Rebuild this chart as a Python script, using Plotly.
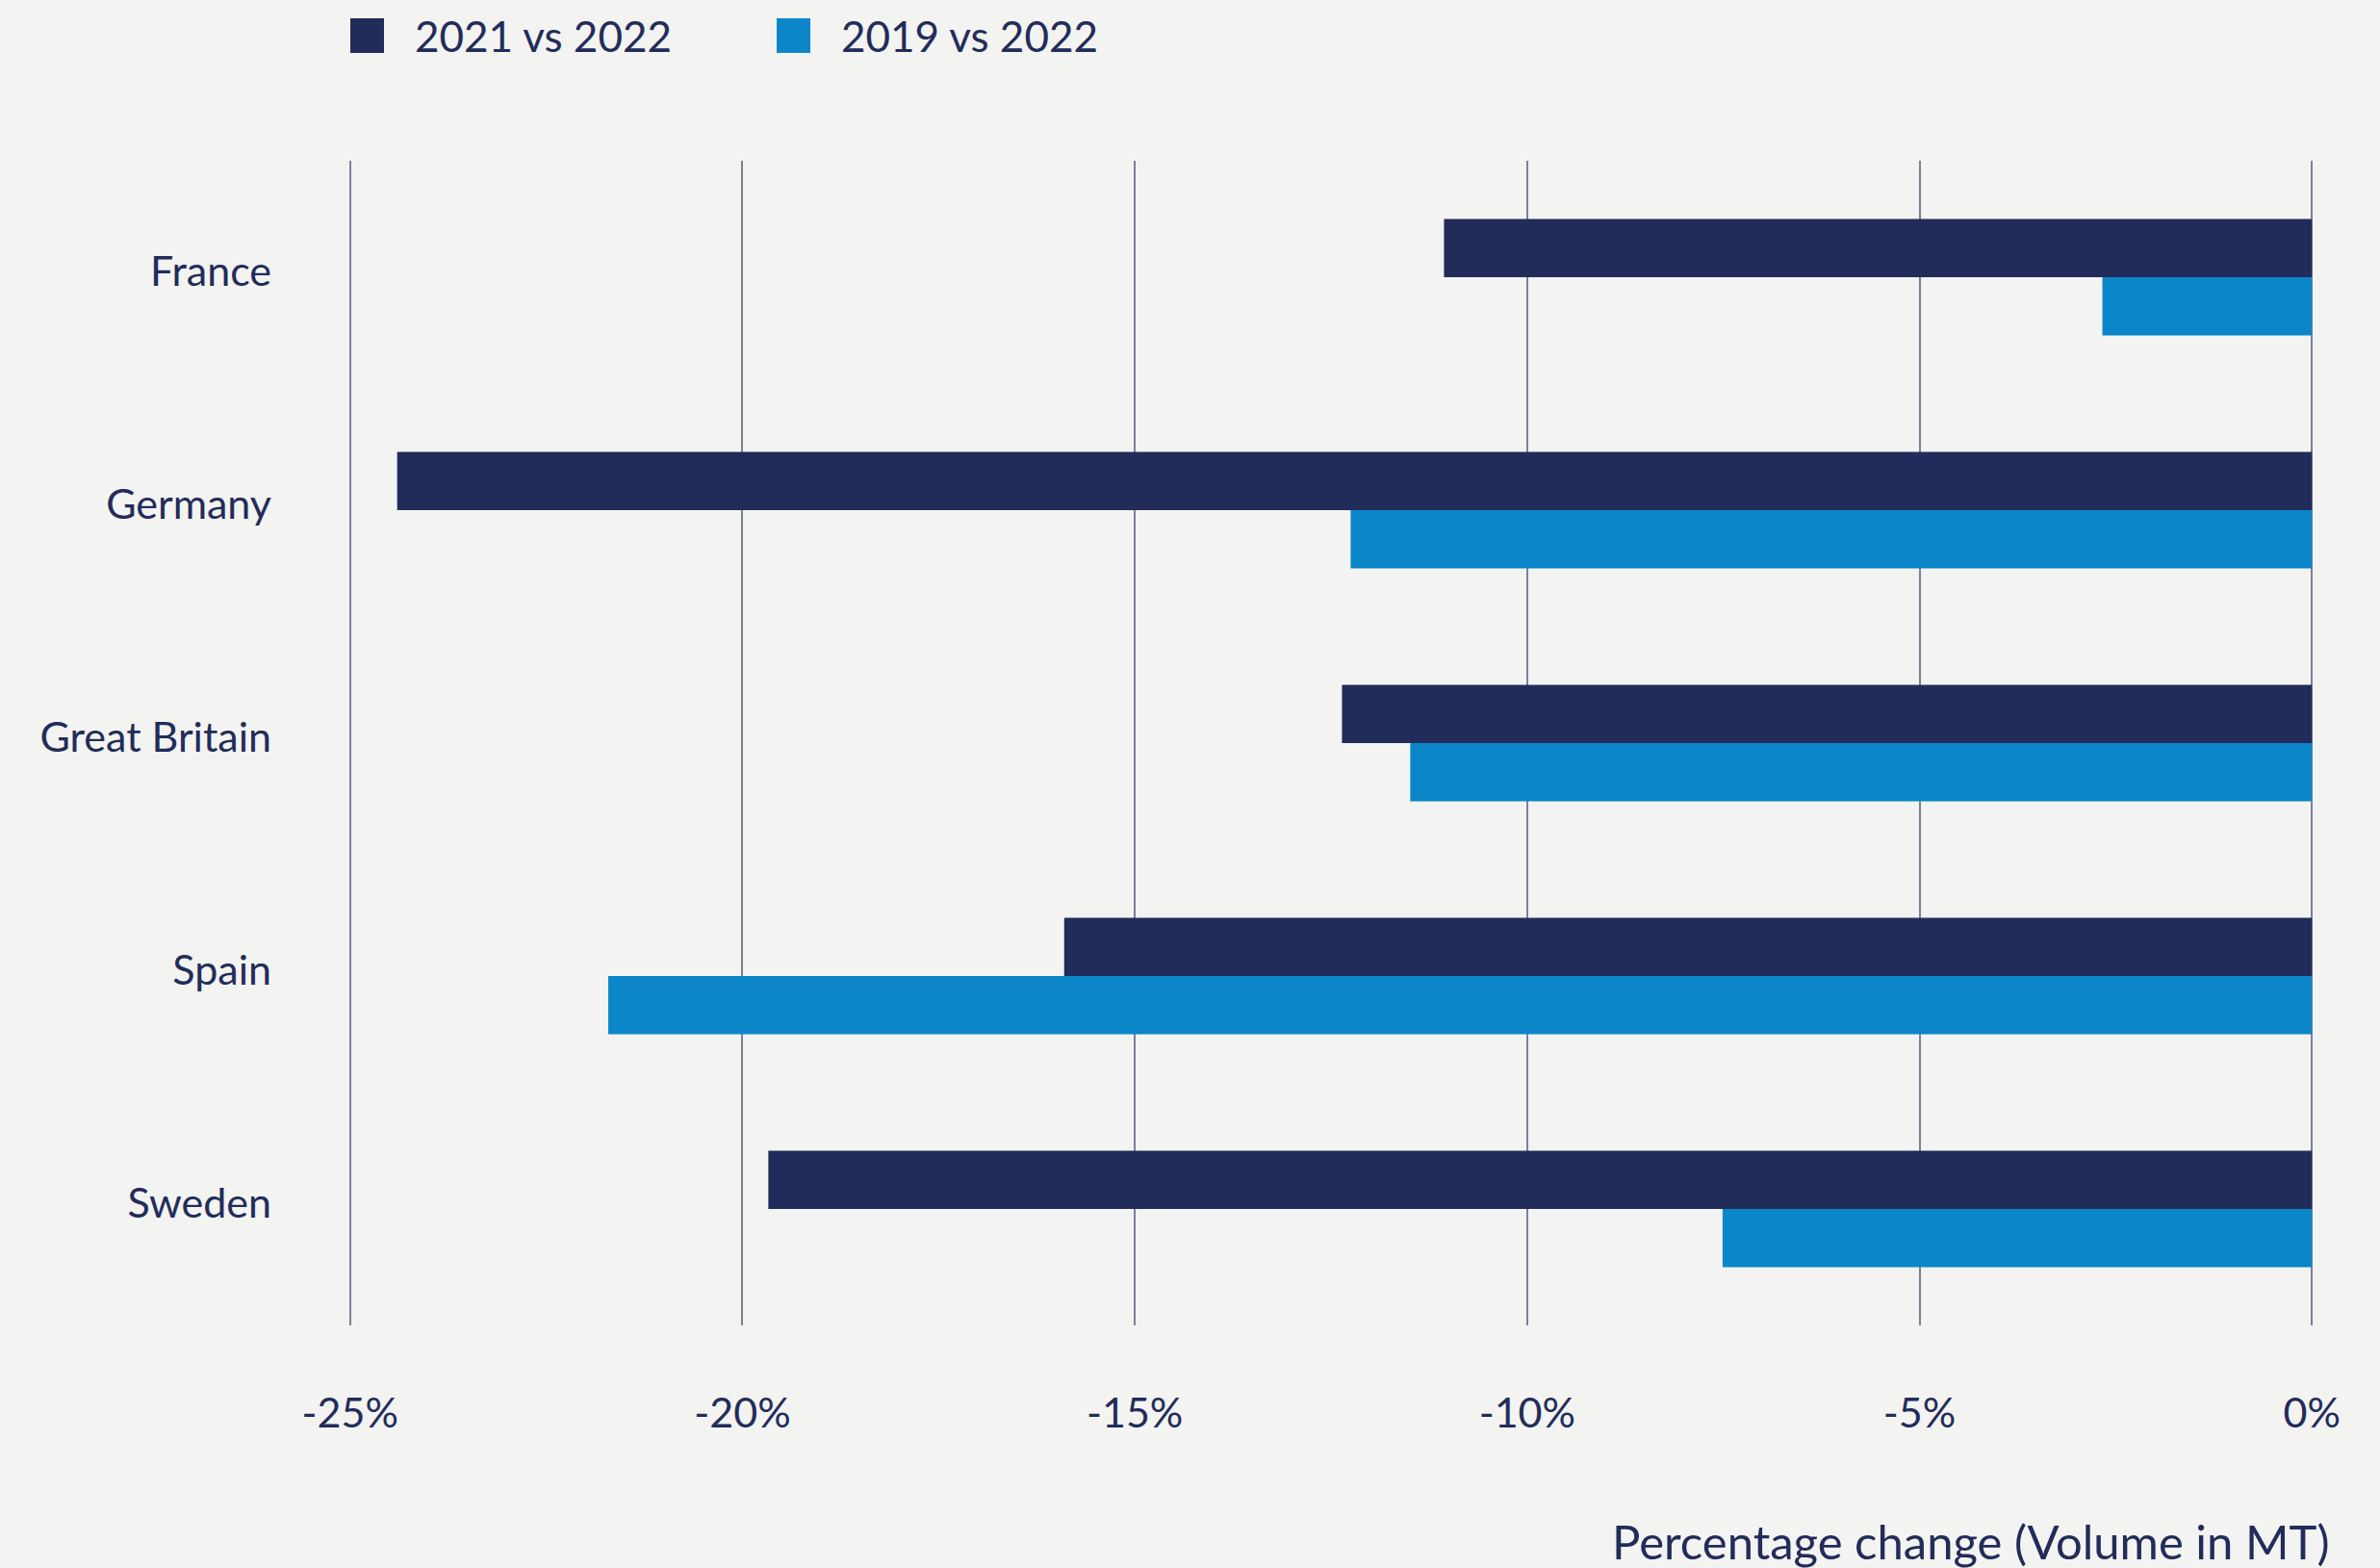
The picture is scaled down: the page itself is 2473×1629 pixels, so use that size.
import plotly.graph_objects as go

# Percentage change in volume (MT) by market
countries = ["France", "Germany", "Great Britain", "Spain", "Sweden"]
change_2021_vs_2022 = [-11.06, -24.40, -12.36, -15.90, -19.67]
change_2019_vs_2022 = [-2.67, -12.25, -11.49, -21.71, -7.51]
series_names = ["2021 vs 2022", "2019 vs 2022"]
x_tick_values = [-25, -20, -15, -10, -5, 0]
x_tick_labels = ["-25%", "-20%", "-15%", "-10%", "-5%", "0%"]
axis_title = "Percentage change (Volume in MT)"

NAVY = "#212c5a"
BLUE = "#0b87c9"
BG = "#f3f3f1"
TEXT = "#222c5a"
GRID = "#7a809e"
FONT = "Lato"

W, H = 2473, 1629
M_L, M_R, M_T, M_B = 323, 30, 167, 252
PLOT_W = W - M_L - M_R
PLOT_H = H - M_T - M_B


def px_x(px):
    return (px - M_L) / PLOT_W


def px_y(py):
    return (H - M_B - py) / PLOT_H


fig = go.Figure()
fig.add_trace(go.Bar(
    y=countries, x=change_2021_vs_2022, name=series_names[0], orientation="h",
    marker=dict(color=NAVY, line=dict(width=0)), showlegend=False,
))
fig.add_trace(go.Bar(
    y=countries, x=change_2019_vs_2022, name=series_names[1], orientation="h",
    marker=dict(color=BLUE, line=dict(width=0)), showlegend=False,
))

# Legend drawn as squares + labels across the top
legend_items = [
    (series_names[0], NAVY, 364, 429),
    (series_names[1], BLUE, 807, 872),
]
shapes = []
annotations = []
for name, color, sq_x, txt_x in legend_items:
    shapes.append(dict(
        type="rect", xref="paper", yref="paper",
        x0=px_x(sq_x), x1=px_x(sq_x + 35), y0=px_y(55), y1=px_y(19),
        fillcolor=color, line=dict(width=0),
    ))
    annotations.append(dict(
        text=name, xref="paper", yref="paper", x=px_x(txt_x), y=px_y(37),
        xanchor="left", yanchor="middle", showarrow=False,
        font=dict(family=FONT, size=44, color=TEXT),
    ))

annotations.append(dict(
    text=axis_title, xref="paper", yref="paper", x=px_x(2422), y=px_y(1601),
    xanchor="right", yanchor="middle", showarrow=False,
    font=dict(family=FONT, size=49, color=TEXT),
))

fig.update_layout(
    width=W, height=H,
    margin=dict(l=M_L, r=M_R, t=M_T, b=M_B),
    paper_bgcolor=BG, plot_bgcolor=BG,
    barmode="group", bargap=0.5, bargroupgap=0,
    font=dict(family=FONT, size=43, color=TEXT),
    shapes=shapes, annotations=annotations,
    xaxis=dict(
        range=[-25.5, 0.5], tickvals=x_tick_values, ticktext=x_tick_labels,
        showgrid=True, gridcolor=GRID, gridwidth=2, zeroline=False,
        showline=False, ticks="", ticklabelstandoff=62,
        tickfont=dict(family=FONT, size=43, color=TEXT),
    ),
    yaxis=dict(
        categoryorder="array", categoryarray=countries,
        range=[4.5, -0.5], showgrid=False, zeroline=False, showline=False,
        ticks="", ticklabelstandoff=40, ticklabelshift=6,
        tickfont=dict(family=FONT, size=43, color=TEXT),
    ),
)

fig.write_html("out.html")
